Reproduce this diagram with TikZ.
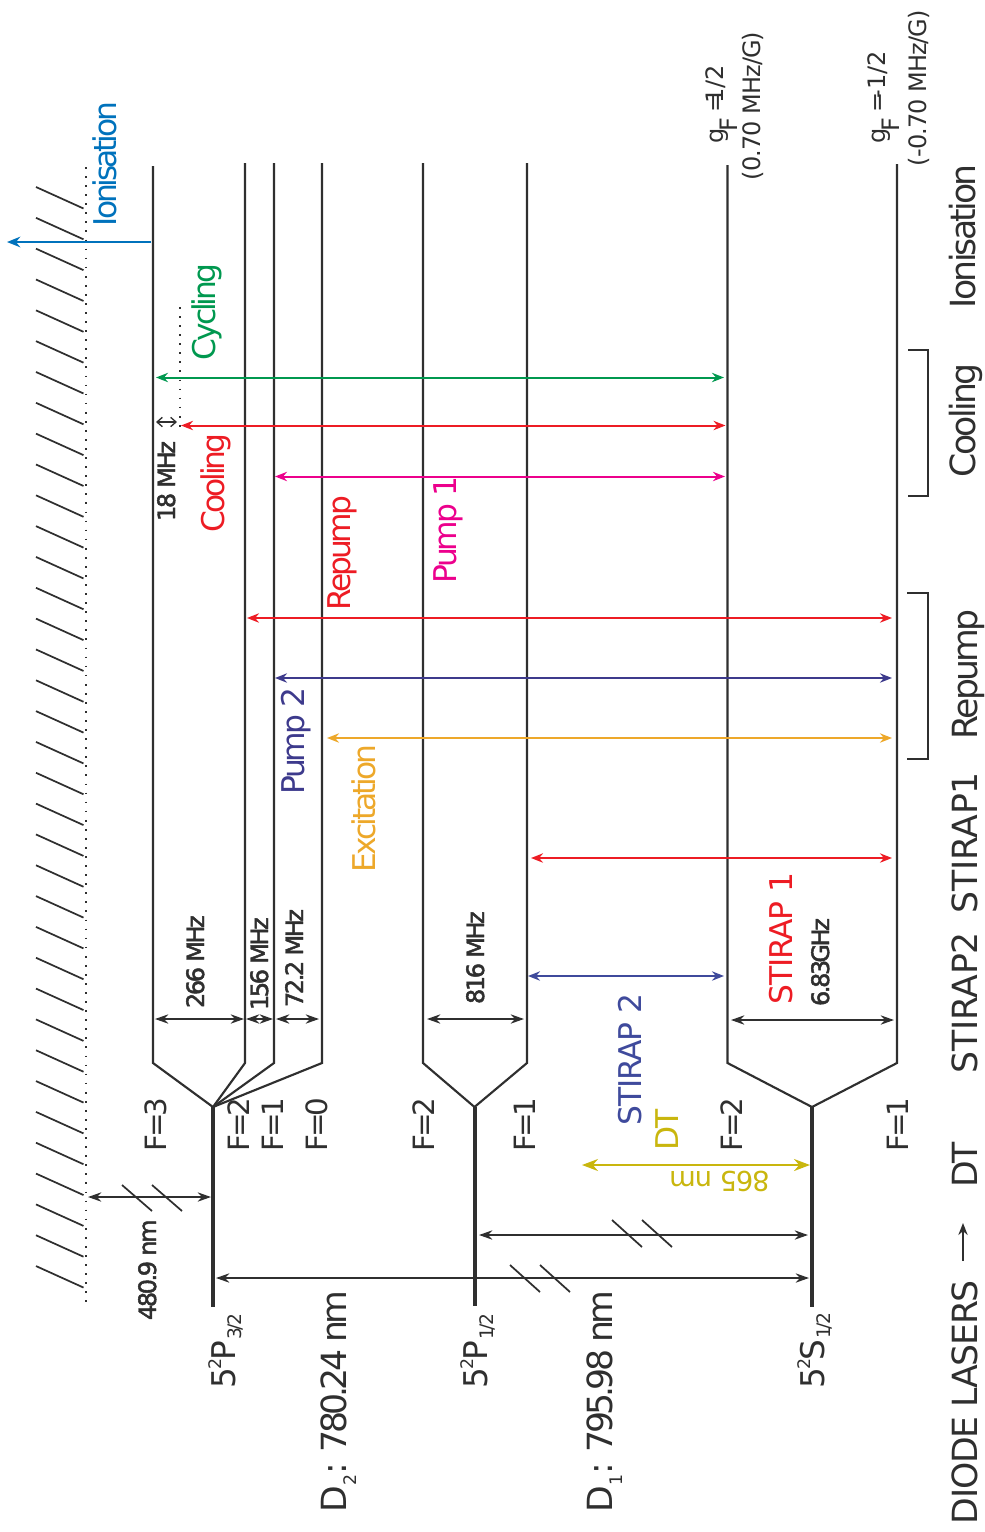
\documentclass[tikz,border=0pt]{standalone}
\usepackage{fontspec}
\usepackage{tikz}
\usetikzlibrary{arrows.meta}
\setmainfont{DejaVu Sans}
\newfontfamily\bigfont[LetterSpace=-8]{DejaVu Sans}
\newfontfamily\trfont[LetterSpace=-10]{DejaVu Sans}
\newfontfamily\wavefont[LetterSpace=-11]{DejaVu Sans}
\newfontfamily\capfont[LetterSpace=-4]{DejaVu Sans}
\newfontfamily\colfont[LetterSpace=-1]{DejaVu Sans}
\newfontfamily\dimfont[LetterSpace=-10,FakeBold=2]{DejaVu Sans}
\newfontfamily\levfont[LetterSpace=-11]{DejaVu Sans}
\definecolor{ink}     {HTML}{2F2F2F}
\definecolor{ionblue} {HTML}{0072BC}
\definecolor{cycgreen}{HTML}{00984F}
\definecolor{coolred} {HTML}{ED1C24}
\definecolor{pumppink}{HTML}{EC008C}
\definecolor{pumpnavy}{HTML}{3D3A8C}
\definecolor{stirblue}{HTML}{3F4A9C}
\definecolor{excorange}{HTML}{EDA82A}
\definecolor{dtyellow}{HTML}{C9B60E}
\tikzset{
  level/.style    ={draw=ink, line width=1.6pt},
  fine/.style     ={draw=ink, line width=3pt},
  hatch/.style    ={draw=ink, line width=1.3pt},
  trans/.style    ={{Stealth[length=9pt,width=7pt]}-{Stealth[length=9pt,width=7pt]}, line width=1.5pt},
  dim/.style      ={{Stealth[length=10pt,width=7pt]}-{Stealth[length=10pt,width=7pt]}, draw=ink, line width=1.2pt},
  dots/.style     ={draw=ink, line width=1.4pt, dash pattern=on 1.3pt off 5.5pt},
  lbl/.style      ={rotate=90, anchor=base west, inner sep=0pt, outer sep=0pt},
  biglbl/.style   ={lbl, font=\fontsize{26}{26}\bigfont, text=ink},
  wavelbl/.style  ={lbl, font=\fontsize{26}{26}\wavefont, text=ink},
  caplbl/.style   ={lbl, font=\fontsize{26}{26}\capfont, text=ink},
  collbl/.style   ={lbl, font=\fontsize{26}{26}\colfont, text=ink},
  trlbl/.style    ={lbl, font=\fontsize{23.5}{24}\trfont},
  dimlbl/.style   ={lbl, font=\fontsize{18}{18}\dimfont, text=ink},
  flbl/.style     ={lbl, font=\fontsize{22}{22}\levfont, text=ink},
  termlbl/.style  ={lbl, font=\fontsize{24.5}{25}\selectfont, text=ink},
  glbl/.style     ={lbl, font=\fontsize{18}{18}\selectfont, text=ink},
  maglbl/.style   ={lbl, font=\fontsize{18}{18}\capfont, text=ink},
}
\newcommand{\termname}[2]{5\kern-.08em\raisebox{.42em}{\fontsize{13}{13}\selectfont 2}\kern-.04em#1\raisebox{-.2em}{\fontsize{14}{14}\levfont\kern.03em #2}}
\newcommand{\gfname}{g\kern-.15em\raisebox{-.6em}{F}\kern.2em=}

\begin{document}
\begin{tikzpicture}[x=0.75pt,y=-0.75pt]
  \useasboundingbox (0,0) rectangle (985,1532);

  % continuum
  \foreach \k in {0,...,35} {
    \draw[hatch] (36,187+30.83*\k) -- (83.5,208.5+30.83*\k);
  }
  \coordinate (contT) at (86,167);
  \coordinate (contB) at (86,1306);
  \draw[dots] (contT) -- (contB);

  % 5P3/2
  \coordinate (pa) at (213,1107);
  \coordinate (pb) at (213,1307);
  \draw[fine] (pa) -- (pb);
  \draw[level] (153,166) -- (153,1063) -- (pa);
  \draw[level] (245,163) -- (245,1063) -- (pa);
  \draw[level] (274,163) -- (274,1063) -- (pa);
  \draw[level] (322,163) -- (322,1063) -- (pa);

  % 5P1/2
  \coordinate (qa) at (474.5,1107);
  \coordinate (qb) at (474.5,1306);
  \draw[fine] (qa) -- (qb);
  \draw[level] (423,163) -- (423,1063) -- (qa);
  \draw[level] (527,163) -- (527,1063) -- (qa);

  % 5S1/2
  \coordinate (sa) at (812,1107);
  \coordinate (sb) at (812,1307);
  \draw[fine] (sa) -- (sb);
  \draw[level] (727.5,165) -- (727.5,1063) -- (sa);
  \draw[level] (897,164) -- (897,1063) -- (sa);

  % lasers
  \draw[{Stealth[length=10pt,width=8pt]}-, line width=1.5pt, draw=ionblue, fill=ionblue] (7,242) -- (151,242);
  \draw[trans,draw=cycgreen,fill=cycgreen] (156,377.5) -- (724,377.5);
  \draw[trans,draw=coolred,fill=coolred] (181,425.5) -- (725.5,425.5);
  \draw[trans,draw=pumppink,fill=pumppink] (275,476.5) -- (725,476.5);
  \draw[trans,draw=coolred,fill=coolred] (247,618) -- (892,618);
  \draw[trans,draw=pumpnavy,fill=pumpnavy] (275,678) -- (892,678);
  \draw[trans,draw=excorange,fill=excorange] (327,738) -- (892,738);
  \draw[trans,draw=coolred,fill=coolred] (531,858) -- (892,858);
  \draw[trans,draw=stirblue,fill=stirblue] (528,976) -- (724,976);
  \draw[{Stealth[length=12pt,width=9pt]}-{Stealth[length=12pt,width=9pt]}, line width=1.6pt, draw=dtyellow, fill=dtyellow] (582,1165) -- (810,1165);

  % splittings
  \draw[dim,fill=ink] (155,1019) -- (244,1019);
  \draw[dim,fill=ink] (246,1019) -- (273,1019);
  \draw[dim,fill=ink] (276,1019) -- (319,1019);
  \draw[dim,fill=ink] (427,1019) -- (524,1019);
  \draw[dim,fill=ink] (731,1020) -- (894,1020);
  \draw[dots] (180,307) -- (180,433);
  \draw[{Straight Barb[length=4pt,width=7pt]}-{Straight Barb[length=4pt,width=7pt]}, draw=ink, line width=1pt] (156,422) -- (177,422);

  % optical lines with breaks
  \draw[dim,fill=ink] (88,1197) -- (211,1197);
  \draw[hatch] (122,1185) -- (152,1211);
  \draw[hatch] (152,1185) -- (182,1211);
  \draw[dim,fill=ink] (479,1235) -- (808,1235);
  \draw[hatch] (612,1220) -- (642,1247);
  \draw[hatch] (642,1220) -- (672,1247);
  \draw[dim,fill=ink] (216,1278) -- (809,1278);
  \draw[hatch] (510,1265) -- (540,1292);
  \draw[hatch] (540,1265) -- (570,1292);

  % brackets
  \draw[level] (908,350) -- (928,350) -- (928,496) -- (908,496);
  \draw[level] (907,593) -- (928,593) -- (928,759) -- (907,759);
  \draw[-{Stealth[length=9pt,width=7pt]}, draw=ink, line width=1.3pt, fill=ink] (963,1261) -- (963,1223);

  % transition names
  \node[trlbl,text=ionblue]   (lion)  at (116,226)  {Ionisation};
  \node[trlbl,text=cycgreen]  (lcyc)  at (215,360)  {Cycling};
  \node[trlbl,text=coolred]   (lcool) at (224,532)  {Cooling};
  \node[trlbl,text=coolred]   (lrep)  at (350,610)  {Repump};
  \node[trlbl,text=pumppink]  (lp1)   at (456,583)  {Pump 1};
  \node[trlbl,text=pumpnavy]  (lp2)   at (304,794)  {Pump 2};
  \node[trlbl,text=excorange] (lexc)  at (375,872)  {Excitation};
  \node[trlbl,text=coolred,font=\fontsize{23.5}{24}\capfont]  (ls1) at (792,1004.5) {STIRAP 1};
  \node[trlbl,text=stirblue,font=\fontsize{23.5}{24}\capfont] (ls2) at (641,1125.5) {STIRAP 2};
  \node[trlbl,text=dtyellow]  (ldt)   at (678,1150) {DT};
  \node[rotate=180,anchor=base west,inner sep=0pt,text=dtyellow,font=\fontsize{20.5}{21}\capfont] (l865) at (770,1171) {865 nm};

  % splitting values
  \node[dimlbl] (v266) at (204,1008) {266 MHz};
  \node[dimlbl] (v156) at (268,1010) {156 MHz};
  \node[dimlbl] (v72)  at (303,1007) {72.2 MHz};
  \node[dimlbl] (v816) at (484,1004) {816 MHz};
  \node[dimlbl] (v683) at (829,1006) {6.83\kern-.12em GHz};
  \node[dimlbl] (v18)  at (175,521)  {18 MHz};
  \node[dimlbl] (v480) at (156,1320) {480.9 nm};

  % F labels
  \node[flbl] (f3) at (166,1151) {F=3};
  \node[flbl] (f2) at (249,1151) {F=2};
  \node[flbl] (f1) at (283,1151) {F=1};
  \node[flbl] (f0) at (327,1151) {F=0};
  \node[flbl] (h2) at (434,1151) {F=2};
  \node[flbl] (h1) at (535,1151) {F=1};
  \node[flbl] (g2) at (742,1151) {F=2};
  \node[flbl] (g1) at (908,1151) {F=1};

  % terms
  \node[termlbl] (t32) at (235,1388) {\termname{P}{3/2}};
  \node[termlbl] (t12) at (487,1388) {\termname{P}{1/2}};
  \node[termlbl] (t00) at (824,1388) {\termname{S}{1/2}};

  % wavelengths
  \node[biglbl] (d2) at (346,1512) {D\raisebox{-.3em}{\fontsize{13}{13}\selectfont 2}:};
  \node[biglbl] (d1) at (612,1512) {D\raisebox{-.3em}{\fontsize{13}{13}\selectfont 1}:};
  \node[wavelbl] (w2) at (346,1452) {780.24 nm};
  \node[wavelbl] (w1) at (612,1452) {795.98 nm};

  % g factors
  \node[glbl] (gu) at (723,143) {\gfname\kern-.46em 1/2};
  \node[glbl] (gl) at (885,143) {\gfname\kern-.25em-1/2};
  \node[maglbl] (mu) at (760,180) {(0.70 MHz/G)};
  \node[maglbl] (ml) at (926,166) {(-0.70 MHz/G)};

  % laser column
  \node[caplbl] (cdio) at (977,1524) {DIODE LASERS};
  \node[biglbl] (cdt)  at (977,1187) {DT};
  \node[collbl] (cs2)  at (977,1073) {STIRAP2};
  \node[collbl] (cs1)  at (977,913)  {STIRAP1};
  \node[biglbl] (crep) at (977,739)  {Repump};
  \node[biglbl] (ccool) at (975,477) {Cooling};
  \node[biglbl] (cion) at (975,308)  {Ionisation};
\end{tikzpicture}
\end{document}
